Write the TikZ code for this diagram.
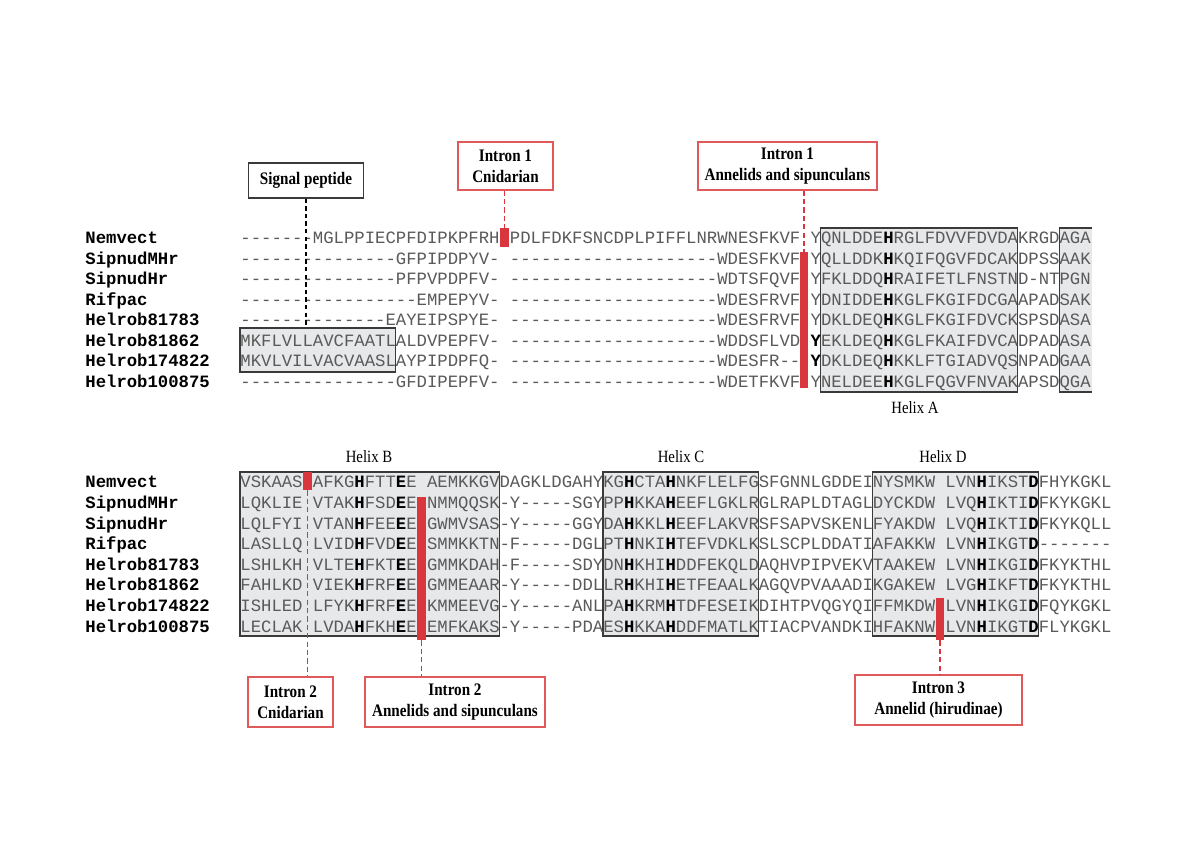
\documentclass[tikz,border=0pt]{standalone}
\usepackage{fontspec}
\setmainfont{Liberation Serif}
\setmonofont{Liberation Mono}
\newfontfamily\calloutfont[FakeStretch=0.86]{Liberation Serif}
\usetikzlibrary{fit,positioning}
\definecolor{algray}{HTML}{5A5A5A}
\definecolor{alfill}{HTML}{E7E8EA}
\definecolor{alline}{HTML}{3A3A3A}
\definecolor{alred}{HTML}{D9363E}
\definecolor{alredline}{HTML}{E05A5C}
\newcommand{\aares}[1]{\textbf{\color{black}#1}}
\def\cw{10.37}

\begin{document}
\begin{tikzpicture}[x=0.5pt,y=-0.5pt,
 seqrow/.style={anchor=west,inner sep=0pt,text=algray,font=\ttfamily\fontsize{8.64}{10}\selectfont,text height=5.9pt,text depth=0pt},
 seqname/.style={seqrow,text=black,font=\ttfamily\bfseries\fontsize{8.64}{10}\selectfont},
 helixbox/.style={draw=alline,fill=alfill,line width=0.65pt,inner sep=0pt},
 helixlabel/.style={font=\calloutfont\fontsize{8.6}{9}\selectfont},
 intronbox/.style={draw=alredline,line width=0.65pt,align=center,inner sep=2pt,font=\calloutfont\bfseries\fontsize{8.8}{10.5}\selectfont,minimum height=24pt},
 signalbox/.style={intronbox,draw=alline,minimum height=17.5pt},
 intronbar/.style={fill=alred,inner sep=0pt,minimum width=4.3pt},
 introndash/.style={draw=alred,line width=0.9pt,dash pattern=on 2.6pt off 1.6pt},
 signaldash/.style={draw=black,line width=0.7pt,dash pattern=on 2.2pt off 1.6pt}
]
\useasboundingbox[fill=white] (0,0) rectangle (1200,849);

% shaded regions
\node[helixbox,fit={(240,328) ({240+15*\cw},372)}] (sigreg) {};
\node[helixbox,fit={({240+56*\cw},228) ({240+75*\cw},392)}] (helixa) {};
\fill[alfill] ({240+79*\cw},228) rectangle (1092,392);
\draw[alline,line width=0.65pt] (1092,228) -- ({240+79*\cw},228) -- ({240+79*\cw},392) -- (1092,392);
\node[helixbox,fit={(240,472) ({240+25*\cw},636)}] (helixb) {};
\node[helixbox,fit={({240+35*\cw},472) ({240+50*\cw},636)}] (helixc) {};
\node[helixbox,fit={({240+61*\cw},472) ({240+77*\cw},636)}] (helixd) {};

% intron positions
\node[intronbar,minimum height=9.5pt] (bar1cn) at ({240+25.5*\cw},237.5) {};
\node[intronbar,minimum height=68pt] (bar1an) at ({240+54.4*\cw},320) {};
\node[intronbar,minimum height=9pt] (bar2cn) at ({240+6.5*\cw},481) {};
\node[intronbar,minimum height=71.5pt] (bar2an) at ({240+17.5*\cw},568.5) {};
\node[intronbar,minimum height=21pt] (bar3) at ({240+67.5*\cw},619) {};

% first block
\node[seqname] (nem1) at (85,238) {Nemvect};
\node[seqname] (sipm1) at (85,258.5) {SipnudMHr};
\node[seqname] (sip1) at (85,279) {SipnudHr};
\node[seqname] (rif1) at (85,299.5) {Rifpac};
\node[seqname] (hela1) at (85,320) {Helrob81783};
\node[seqname] (helb1) at (85,340.5) {Helrob81862};
\node[seqname] (helc1) at (85,361) {Helrob174822};
\node[seqname] (held1) at (85,381.5) {Helrob100875};
\node[seqrow] (nem1seq) at (240,238) {-------MGLPPIECPFDIPKPFRH PDLFDKFSNCDPLPIFFLNRWNESFKVF YQNLDDE\aares{H}RGLFDVVFDVDAKRGDAGA};
\node[seqrow] (sipm1seq) at (240,258.5) {---------------GFPIPDPYV- --------------------WDESFKVF YQLLDDK\aares{H}KQIFQGVFDCAKDPSSAAK};
\node[seqrow] (sip1seq) at (240,279) {---------------PFPVPDPFV- --------------------WDTSFQVF YFKLDDQ\aares{H}RAIFETLFNSTND-NTPGN};
\node[seqrow] (rif1seq) at (240,299.5) {-----------------EMPEPYV- --------------------WDESFRVF YDNIDDE\aares{H}KGLFKGIFDCGAAPADSAK};
\node[seqrow] (hela1seq) at (240,320) {--------------EAYEIPSPYE- --------------------WDESFRVF YDKLDEQ\aares{H}KGLFKGIFDVCKSPSDASA};
\node[seqrow] (helb1seq) at (240,340.5) {MKFLVLLAVCFAATLALDVPEPFV- --------------------WDDSFLVD \aares{Y}EKLDEQ\aares{H}KGLFKAIFDVCADPADASA};
\node[seqrow] (helc1seq) at (240,361) {MKVLVILVACVAASLAYPIPDPFQ- --------------------WDESFR-- \aares{Y}DKLDEQ\aares{H}KKLFTGIADVQSNPADGAA};
\node[seqrow] (held1seq) at (240,381.5) {---------------GFDIPEPFV- --------------------WDETFKVF YNELDEE\aares{H}KGLFQGVFNVAKAPSDQGA};
\node[helixlabel] (helixalab) at (915,408) {Helix A};

% second block
\node[helixlabel] (helixblab) at (369,457) {Helix B};
\node[helixlabel] (helixclab) at (681,457) {Helix C};
\node[helixlabel] (helixdlab) at (943,457) {Helix D};
\node[seqname] (nem2) at (85,482) {Nemvect};
\node[seqname] (sipm2) at (85,502.6) {SipnudMHr};
\node[seqname] (sip2) at (85,523.2) {SipnudHr};
\node[seqname] (rif2) at (85,543.8) {Rifpac};
\node[seqname] (hela2) at (85,564.4) {Helrob81783};
\node[seqname] (helb2) at (85,585) {Helrob81862};
\node[seqname] (helc2) at (85,605.6) {Helrob174822};
\node[seqname] (held2) at (85,626.2) {Helrob100875};
\node[seqrow] (nem2seq) at (240,482) {VSKAAS AFKG\aares{H}FTT\aares{E}E AEMKKGVDAGKLDGAHYKG\aares{H}CTA\aares{H}NKFLELFGSFGNNLGDDEINYSMKW LVN\aares{H}IKST\aares{D}FHYKGKL};
\node[seqrow] (sipm2seq) at (240,502.6) {LQKLIE VTAK\aares{H}FSD\aares{E}E NMMQQSK-Y-----SGYPP\aares{H}KKA\aares{H}EEFLGKLRGLRAPLDTAGLDYCKDW LVQ\aares{H}IKTI\aares{D}FKYKGKL};
\node[seqrow] (sip2seq) at (240,523.2) {LQLFYI VTAN\aares{H}FEE\aares{E}E GWMVSAS-Y-----GGYDA\aares{H}KKL\aares{H}EEFLAKVRSFSAPVSKENLFYAKDW LVQ\aares{H}IKTI\aares{D}FKYKQLL};
\node[seqrow] (rif2seq) at (240,543.8) {LASLLQ LVID\aares{H}FVD\aares{E}E SMMKKTN-F-----DGLPT\aares{H}NKI\aares{H}TEFVDKLKSLSCPLDDATIAFAKKW LVN\aares{H}IKGT\aares{D}-------};
\node[seqrow] (hela2seq) at (240,564.4) {LSHLKH VLTE\aares{H}FKT\aares{E}E GMMKDAH-F-----SDYDN\aares{H}KHI\aares{H}DDFEKQLDAQHVPIPVEKVTAAKEW LVN\aares{H}IKGI\aares{D}FKYKTHL};
\node[seqrow] (helb2seq) at (240,585) {FAHLKD VIEK\aares{H}FRF\aares{E}E GMMEAAR-Y-----DDLLR\aares{H}KHI\aares{H}ETFEAALKAGQVPVAAADIKGAKEW LVG\aares{H}IKFT\aares{D}FKYKTHL};
\node[seqrow] (helc2seq) at (240,605.6) {ISHLED LFYK\aares{H}FRF\aares{E}E KMMEEVG-Y-----ANLPA\aares{H}KRM\aares{H}TDFESEIKDIHTPVQGYQIFFMKDW LVN\aares{H}IKGI\aares{D}FQYKGKL};
\node[seqrow] (held2seq) at (240,626.2) {LECLAK LVDA\aares{H}FKH\aares{E}E EMFKAKS-Y-----PDAES\aares{H}KKA\aares{H}DDFMATLKTIACPVANDKIHFAKNW LVN\aares{H}IKGT\aares{D}FLYKGKL};

% callouts
\node[signalbox,minimum width=57.5pt] (siglab) at (306,180.5) {Signal peptide};
\node[intronbox,minimum width=47.5pt] (intron1cn) at (505.5,166) {Intron 1\\Cnidarian};
\node[intronbox,minimum width=89.5pt] (intron1an) at (787.5,166) {Intron 1\\Annelids and sipunculans};
\node[intronbox,minimum width=42.5pt,minimum height=25pt] (intron2cn) at (290.5,702) {Intron 2\\Cnidarian};
\node[intronbox,minimum width=90pt,minimum height=25pt] (intron2an) at (455,702) {Intron 2\\Annelids and sipunculans};
\node[intronbox,minimum width=83.5pt,minimum height=25pt] (intron3) at (938.5,700) {Intron 3\\Annelid (hirudinae)};
\draw[signaldash] (siglab.south) -- (siglab.south |- sigreg.north);
\draw[introndash] (intron1cn.south -| bar1cn) -- (bar1cn.north);
\draw[introndash] (intron1an.south -| bar1an) -- (bar1an.north);
\draw[introndash] (bar2cn.south) -- (bar2cn.south |- intron2cn.north);
\draw[introndash] (bar2an.south) -- (bar2an.south |- intron2an.north);
\draw[introndash] (bar3.south) -- (bar3.south |- intron3.north);
\end{tikzpicture}
\end{document}
